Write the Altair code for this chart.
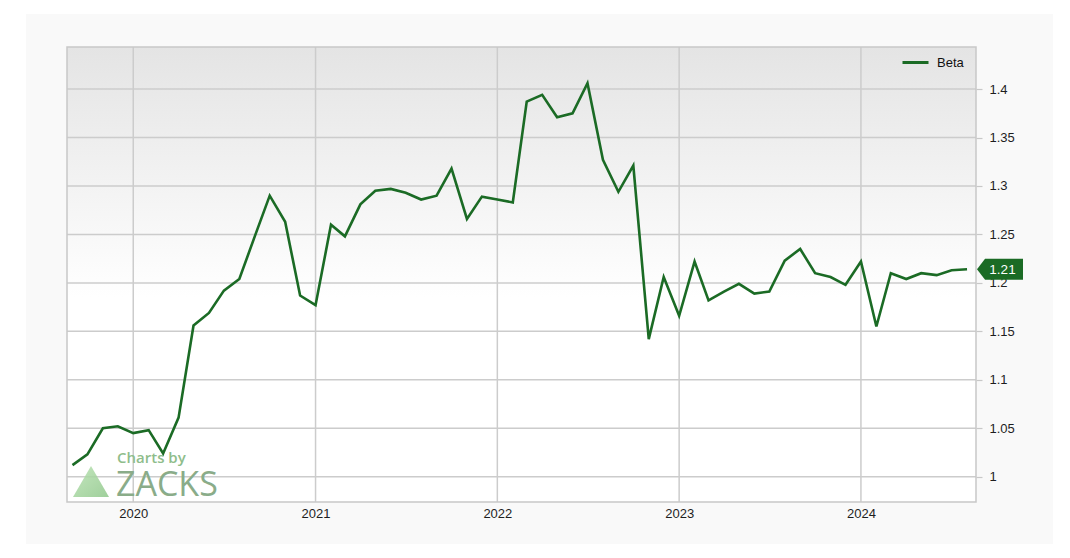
import altair as alt
import pandas as pd

# ---- data ----
start_month = "2019-09-01"
beta_values = [
    1.012, 1.023, 1.050, 1.052, 1.045, 1.048, 1.024, 1.061, 1.156, 1.169,
    1.192, 1.204, 1.248, 1.290, 1.263, 1.187, 1.177, 1.260, 1.248, 1.281,
    1.295, 1.297, 1.293, 1.286, 1.290, 1.318, 1.266, 1.289, 1.286, 1.283,
    1.387, 1.394, 1.371, 1.375, 1.406, 1.327, 1.294, 1.321, 1.142, 1.206,
    1.166, 1.222, 1.182, 1.191, 1.199, 1.189, 1.191, 1.223, 1.235, 1.210,
    1.206, 1.198, 1.222, 1.155, 1.210, 1.204, 1.210, 1.208, 1.213, 1.214,
]
year_ticks = [2020, 2021, 2022, 2023, 2024]
y_ticks = [1.0, 1.05, 1.1, 1.15, 1.2, 1.25, 1.3, 1.35, 1.4]
series_name = "Beta"

W, H = 909, 455
GREEN = "#1b6b25"
GRID = "#cccccc"
FONT = "Liberation Sans"

dates = pd.date_range(start_month, periods=len(beta_values), freq="MS")
df = pd.DataFrame({"date": dates, "beta": beta_values, "series": series_name})
year_df = pd.DataFrame({"d": pd.to_datetime([f"{y}-01-01" for y in year_ticks])})
ytick_df = pd.DataFrame({"v": y_ticks})
last_df = pd.DataFrame({"beta": [beta_values[-1]], "label": [f"{beta_values[-1]:.2f}"]})

xscale = alt.Scale(domain=[alt.DateTime(year=2019, month=8, date=21),
                           alt.DateTime(year=2024, month=8, date=19)], nice=False)
yscale = alt.Scale(domain=[0.9739, 1.4434], nice=False, zero=False)

xaxis = alt.Axis(values=[alt.DateTime(year=y, month=1, date=1) for y in year_ticks],
                 format="%Y", title=None, grid=False, ticks=False, domain=False,
                 labelPadding=5, labelFontSize=13, labelFont=FONT, labelColor="#1e1e1e")
yaxis = alt.Axis(orient="right", values=y_ticks, format="~g", title=None, grid=False,
                 domain=False, tickColor="#c8c8c8", tickSize=6, tickWidth=1.2,
                 labelPadding=7, labelFontSize=13, labelFont=FONT, labelColor="#1e1e1e")

one = alt.Data(values=[{"a": 1}])


def box(x, x2, y, y2, **kw):
    return alt.Chart(one).mark_rect(**kw).encode(
        x=alt.value(x), x2=alt.value(x2), y=alt.value(y), y2=alt.value(y2))


# page-white strips outside the light panel
strip_left = box(-59, -41, -39, 503, color="#ffffff")
strip_top = box(-59, 995, -39, -33, color="#ffffff")
strip_right = box(986, 995, -39, 503, color="#ffffff")

plot_bg = box(0, W, 0, H, color=alt.Gradient(
    gradient="linear",
    stops=[alt.GradientStop(offset=0, color="#e4e4e4"),
           alt.GradientStop(offset=0.55, color="#ffffff"),
           alt.GradientStop(offset=1, color="#ffffff")],
    x1=0, x2=0, y1=0, y2=1))

vgrid = alt.Chart(year_df).mark_rule(color=GRID, strokeWidth=1.5).encode(
    x=alt.X("d:T", scale=xscale, axis=xaxis))
hgrid = alt.Chart(ytick_df).mark_rule(color=GRID, strokeWidth=1.5).encode(
    y=alt.Y("v:Q", scale=yscale, axis=yaxis))

border = box(0, W, 0, H, fill="transparent", stroke="#c8c8c8", strokeWidth=1.5)

# watermark
tri = alt.Chart(one).mark_point(
    shape="M 0 -0.86 L 1 0.86 L -1 0.86 Z", size=1296, filled=True,
    fill=alt.Gradient(gradient="linear",
                      stops=[alt.GradientStop(offset=0, color="#b9e2b2"),
                             alt.GradientStop(offset=1, color="#8fc78a")],
                      x1=0, x2=1, y1=0, y2=1),
    opacity=0.85, strokeWidth=0).encode(
    x=alt.value(24), y=alt.value(434.5))
wm1 = alt.Chart(one).mark_text(text="Charts by", font="Open Sans", fontSize=15,
                               fontWeight=600, color="#8fbd8b", align="left",
                               baseline="alphabetic").encode(
    x=alt.value(50), y=alt.value(416))
wm2 = alt.Chart(one).mark_text(text="ZACKS", font="Open Sans", fontSize=34,
                               fontWeight=500, color="#8aac89", align="left",
                               baseline="alphabetic").encode(
    x=alt.value(49), y=alt.value(449))

line = alt.Chart(df).mark_line(strokeWidth=2.6).encode(
    x=alt.X("date:T", scale=xscale, axis=xaxis),
    y=alt.Y("beta:Q", scale=yscale, axis=yaxis),
    color=alt.Color("series:N", scale=alt.Scale(range=[GREEN]),
                    legend=alt.Legend(title=None, orient="none", legendX=834, legendY=1,
                                      symbolType="stroke", symbolSize=676,
                                      symbolStrokeWidth=3, labelFont=FONT,
                                      labelFontSize=13, labelColor="#111111",
                                      labelOffset=7, padding=0)))

tag = alt.Chart(last_df).mark_point(
    shape="M -1 0 L -0.65 -0.457 L 1 -0.457 L 1 0.457 L -0.65 0.457 Z",
    size=2116, filled=True, fill=GREEN, opacity=1, strokeWidth=0).encode(
    x=alt.value(933), y=alt.Y("beta:Q", scale=yscale, axis=yaxis))
tag_text = alt.Chart(last_df).mark_text(
    font=FONT, fontSize=13.5, color="#ffffff", align="center", baseline="middle", dy=0.5).encode(
    x=alt.value(935.5), y=alt.Y("beta:Q", scale=yscale, axis=yaxis), text="label:N")

chart = alt.layer(
    strip_left, strip_top, strip_right, plot_bg, vgrid, hgrid, border,
    tri, wm1, wm2, line, tag, tag_text
).properties(
    width=W, height=H,
    padding={"left": 59, "top": 39, "right": 86, "bottom": 42},
    autosize=alt.AutoSizeParams(type="none"),
    background="#f9f9f9",
).configure_view(strokeWidth=0)

chart.save("out.html", embed_options={"renderer": "svg", "actions": False})
